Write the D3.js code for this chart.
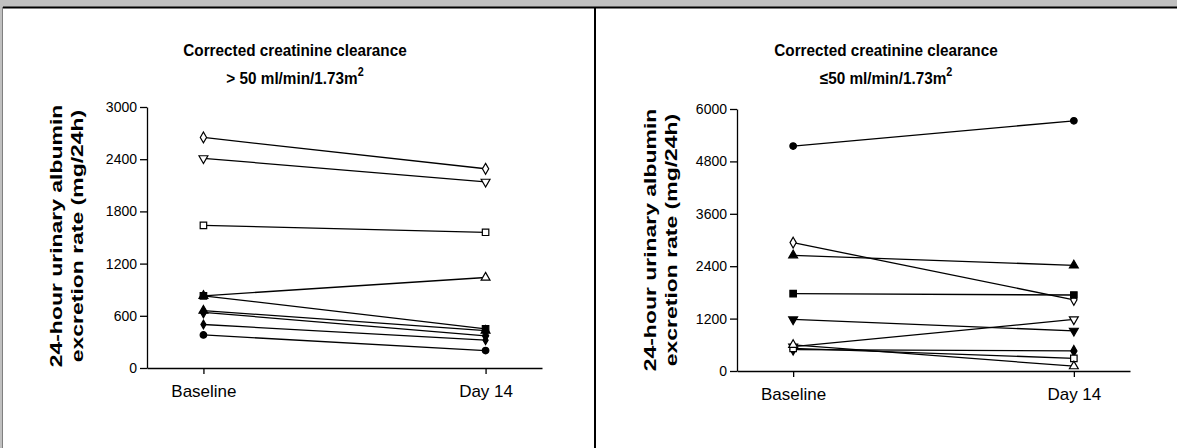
<!DOCTYPE html>
<html><head><meta charset="utf-8">
<script src="https://cdn.jsdelivr.net/npm/d3@7"></script>
<style>
html,body{margin:0;padding:0;background:#c0c0c0;}
svg{display:block;font-family:"Liberation Sans",Arial,sans-serif;}
</style></head>
<body>
<svg id="c" width="1177" height="448"></svg>
<script>
const categories = ["Baseline", "Day 14"];

// Left panel: > 50 ml/min/1.73m2
const leftTicks = [0, 600, 1200, 1800, 2400, 3000];
const leftBaseline = [2650, 2410, 1640, 830, 830, 660, 640, 500, 380];
const leftDay14    = [2290, 2140, 1560, 1040, 450, 430, 370, 320, 200];
const leftSymbols  = ["diamond", "triDown", "square", "triUp", "square", "triUp", "diamond", "diamondSmall", "circle"];
const leftFilled   = [false, false, false, false, true, true, true, true, true];

// Right panel: <= 50 ml/min/1.73m2
const rightTicks = [0, 1200, 2400, 3600, 4800, 6000];
const rightBaseline = [5150, 2940, 2650, 1770, 1180, 560, 490, 520, 600];
const rightDay14    = [5730, 1630, 2420, 1740, 920, 1180, 460, 290, 110];
const rightSymbols  = ["circle", "diamond", "triUp", "square", "triDown", "triDown", "diamond", "square", "triUp"];
const rightFilled   = [true, false, true, true, true, false, true, false, false];

const svg = d3.select("#c");
// frame
svg.append("rect").attr("x", 3).attr("y", 8).attr("width", 1174).attr("height", 440).attr("fill", "#fff");
svg.append("line").attr("x1", 3).attr("x2", 1177).attr("y1", 7.5).attr("y2", 7.5).attr("stroke", "#000").attr("stroke-width", 2);
svg.append("line").attr("x1", 2.5).attr("x2", 2.5).attr("y1", 7).attr("y2", 448).attr("stroke", "#808080").attr("stroke-width", 1);
svg.append("line").attr("x1", 595).attr("x2", 595).attr("y1", 7).attr("y2", 448).attr("stroke", "#000").attr("stroke-width", 2);

const symMap = {
  circle: [d3.symbolCircle, 34],
  square: [d3.symbolSquare, 42],
  diamond: [d3.symbolDiamond, 34],
  diamondSmall: [d3.symbolDiamond, 22],
  triUp: [d3.symbolTriangle, 34],
  triDown: [d3.symbolTriangle, 34]
};
const FONT = "Liberation Sans, Arial, sans-serif";

function panel(opts) {
  const g = svg.append("g");
  const y = d3.scaleLinear().domain([0, opts.ymax]).range([opts.y0, opts.y1]);
  const x = d3.scalePoint().domain(categories).range([opts.xl, opts.xr]).padding(0.2);

  const ya = g.append("g").attr("transform", `translate(${opts.xl},0)`)
    .call(d3.axisLeft(y).tickValues(opts.ticks).tickFormat(d3.format("d")).tickSize(7).tickPadding(3).tickSizeOuter(0));
  const xa = g.append("g").attr("transform", `translate(0,${opts.y0})`)
    .call(d3.axisBottom(x).tickSize(6).tickSizeOuter(0));
  [ya, xa].forEach(a => {
    a.select(".domain").attr("stroke", "#000").attr("stroke-width", 1.3);
    a.selectAll(".tick line").attr("stroke", "#000").attr("stroke-width", 1.3);
    a.selectAll("text").attr("font-family", FONT).attr("fill", "#000");
  });
  ya.selectAll("text").attr("font-size", 14);
  xa.selectAll("text").attr("font-size", 17).attr("dy", null).attr("y", 29);

  for (let i = 0; i < opts.base.length; i++) {
    const pts = [[x(categories[0]), y(opts.base[i])], [x(categories[1]), y(opts.day[i])]];
    g.append("line").attr("x1", pts[0][0]).attr("y1", pts[0][1]).attr("x2", pts[1][0]).attr("y2", pts[1][1])
      .attr("stroke", "#000").attr("stroke-width", 1.3);
    const [type, size] = symMap[opts.syms[i]];
    const rot = opts.syms[i] === "triDown" ? 180 : 0;
    pts.forEach(p => {
      g.append("path").attr("d", d3.symbol().type(type).size(size)())
        .attr("transform", `translate(${p[0]},${p[1]}) rotate(${rot})`)
        .attr("fill", opts.filled[i] ? "#000" : "#fff")
        .attr("stroke", "#000").attr("stroke-width", 1.2);
    });
  }

  // title (slightly condensed horizontally)
  const tg = g.append("g").attr("transform", `translate(${opts.tx},0) scale(0.9,1)`);
  const t = tg.append("text").attr("text-anchor", "middle").attr("font-weight", "bold").attr("font-size", 17).attr("fill", "#000");
  t.append("tspan").attr("x", 0).attr("y", 56).text("Corrected creatinine clearance");
  t.append("tspan").attr("x", 0).attr("y", 84).text(opts.sub);
  t.append("tspan").attr("dy", -8).attr("font-size", 12).text("2");

  // y label (stretched along reading direction)
  const yl = g.append("text").attr("transform", `translate(${opts.lx},${opts.ly}) rotate(-90) scale(1.35,1)`)
    .attr("text-anchor", "middle").attr("font-weight", "bold").attr("font-size", 17).attr("fill", "#000");
  yl.append("tspan").attr("x", 0).attr("y", 0).text("24-hour urinary albumin");
  yl.append("tspan").attr("x", 0).attr("y", 21).text("excretion rate (mg/24h)");
}

panel({ ymax: 3000, y0: 368, y1: 107, xl: 147, xr: 542, ticks: leftTicks,
  base: leftBaseline, day: leftDay14, syms: leftSymbols, filled: leftFilled,
  tx: 295, sub: "> 50 ml/min/1.73m", lx: 62, ly: 236 });
panel({ ymax: 6000, y0: 371, y1: 109, xl: 737, xr: 1130, ticks: rightTicks,
  base: rightBaseline, day: rightDay14, syms: rightSymbols, filled: rightFilled,
  tx: 886, sub: "\u226450 ml/min/1.73m", lx: 656, ly: 240 });
</script>
</body></html>
